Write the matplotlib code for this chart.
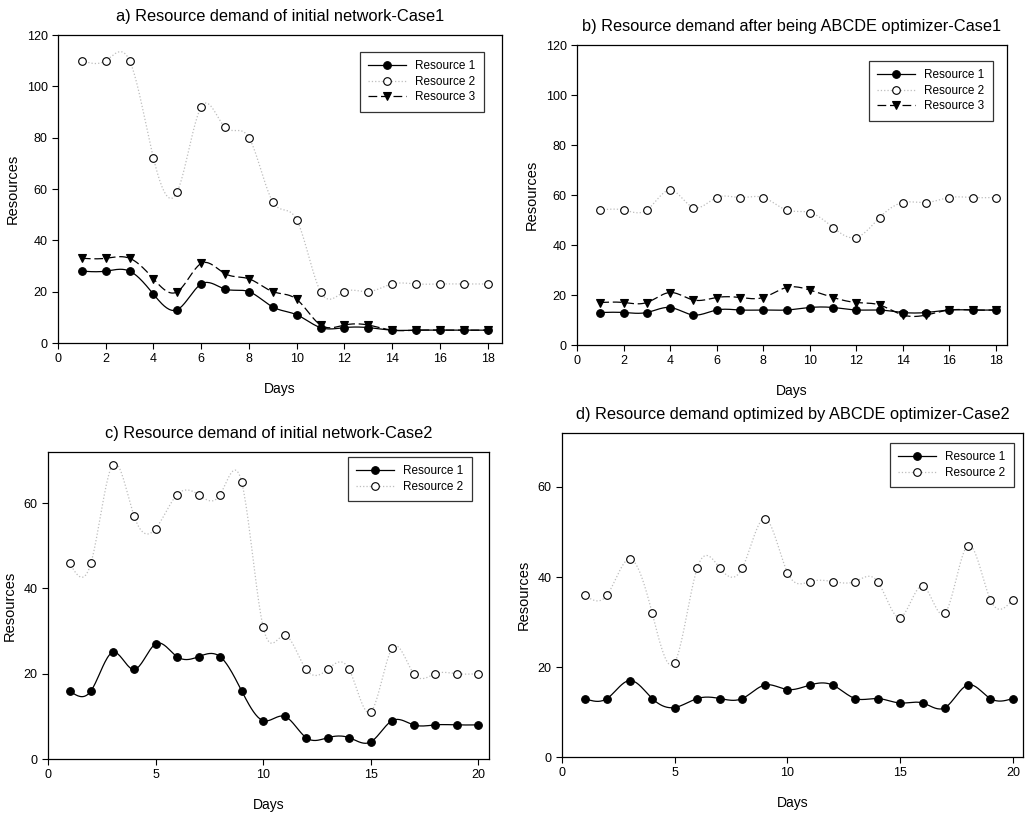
import numpy as np
import matplotlib
matplotlib.use("Agg")
import matplotlib.pyplot as plt

plt.rcParams['font.family'] = ['Liberation Sans', 'DejaVu Sans']

days18 = list(range(1, 19))
days20 = list(range(1, 21))

a_r1 = [28, 28, 28, 19, 13, 23, 21, 20, 14, 11, 6, 6, 6, 5, 5, 5, 5, 5]
a_r2 = [110, 110, 110, 72, 59, 92, 84, 80, 55, 48, 20, 20, 20, 23, 23, 23, 23, 23]
a_r3 = [33, 33, 33, 25, 20, 31, 27, 25, 20, 17, 7, 7, 7, 5, 5, 5, 5, 5]

b_r1 = [13, 13, 13, 15, 12, 14, 14, 14, 14, 15, 15, 14, 14, 13, 13, 14, 14, 14]
b_r2 = [54, 54, 54, 62, 55, 59, 59, 59, 54, 53, 47, 43, 51, 57, 57, 59, 59, 59]
b_r3 = [17, 17, 17, 21, 18, 19, 19, 19, 23, 22, 19, 17, 16, 12, 12, 14, 14, 14]

c_r1 = [16, 16, 25, 21, 27, 24, 24, 24, 16, 9, 10, 5, 5, 5, 4, 9, 8, 8, 8, 8]
c_r2 = [46, 46, 69, 57, 54, 62, 62, 62, 65, 31, 29, 21, 21, 21, 11, 26, 20, 20, 20, 20]

d_r1 = [13, 13, 17, 13, 11, 13, 13, 13, 16, 15, 16, 16, 13, 13, 12, 12, 11, 16, 13, 13]
d_r2 = [36, 36, 44, 32, 21, 42, 42, 42, 53, 41, 39, 39, 39, 39, 31, 38, 32, 47, 35, 35]

titles = ["a) Resource demand of initial network-Case1",
          "b) Resource demand after being ABCDE optimizer-Case1",
          "c) Resource demand of initial network-Case2",
          "d) Resource demand optimized by ABCDE optimizer-Case2"]
labels = ["Resource 1", "Resource 2", "Resource 3"]


def spline(x, y, n=20):
    x = np.asarray(x, float)
    y = np.asarray(y, float)
    m = len(x)
    h = np.diff(x)
    A = np.zeros((m, m))
    r = np.zeros(m)
    A[0, 0] = 1
    A[-1, -1] = 1
    for i in range(1, m - 1):
        A[i, i - 1] = h[i - 1]
        A[i, i] = 2 * (h[i - 1] + h[i])
        A[i, i + 1] = h[i]
        r[i] = 3 * ((y[i + 1] - y[i]) / h[i] - (y[i] - y[i - 1]) / h[i - 1])
    c = np.linalg.solve(A, r)
    xs, ys = [], []
    for i in range(m - 1):
        b = (y[i + 1] - y[i]) / h[i] - h[i] * (2 * c[i] + c[i + 1]) / 3
        d = (c[i + 1] - c[i]) / (3 * h[i])
        t = np.linspace(0, h[i], n, endpoint=(i == m - 2))
        xs.append(x[i] + t)
        ys.append(y[i] + b * t + c[i] * t ** 2 + d * t ** 3)
    return np.concatenate(xs), np.concatenate(ys)


W, H = 1026, 814
fig = plt.figure(figsize=(W / 100, H / 100), dpi=100)


def make_ax(l, r, t, b):
    return fig.add_axes([l / W, 1 - b / H, (r - l) / W, (b - t) / H])


axes = [make_ax(58, 502, 35, 343), make_ax(577, 1007, 45, 345),
        make_ax(48, 489, 452, 759), make_ax(562, 1023, 433, 757)]

panels = [
    (days18, [a_r1, a_r2, a_r3], (0, 18.6), (0, 120), [0, 2, 4, 6, 8, 10, 12, 14, 16, 18], [0, 20, 40, 60, 80, 100, 120], (0.959, 0.945)),
    (days18, [b_r1, b_r2, b_r3], (0, 18.47), (0, 120), [0, 2, 4, 6, 8, 10, 12, 14, 16, 18], [0, 20, 40, 60, 80, 100, 120], (0.967, 0.947)),
    (days20, [c_r1, c_r2], (0, 20.5), (0, 72), [0, 5, 10, 15, 20], [0, 20, 40, 60], (0.961, 0.984)),
    (days20, [d_r1, d_r2], (0, 20.45), (0, 72), [0, 5, 10, 15, 20], [0, 20, 40, 60], (0.98, 0.969)),
]

styles = [
    dict(color='black', ls='-', lw=0.9, marker='o', mfc='black', mec='black'),
    dict(color='#bdbdbd', ls=':', lw=0.9, marker='o', mfc='white', mec='black'),
    dict(color='black', ls=(0, (7, 3)), lw=0.9, marker='v', mfc='black', mec='black'),
]

for ax, title, (x, series, xl, yl, xt, yt, lpos) in zip(axes, titles, panels):
    handles = []
    for k, s in enumerate(series):
        st = styles[k]
        sx, sy = spline(x, s)
        ax.plot(sx, sy, color=st['color'], ls=st['ls'], lw=st['lw'], zorder=2)
        ax.plot(x, s, ls='none', marker=st['marker'], mfc=st['mfc'], mec=st['mec'],
                ms=5.5, mew=0.8, zorder=3)
        h, = ax.plot([], [], color=st['color'], ls=st['ls'], lw=st['lw'],
                     marker=st['marker'], mfc=st['mfc'], mec=st['mec'], ms=5.5, mew=0.8)
        handles.append(h)
    ax.set_xlim(*xl)
    ax.set_ylim(*yl)
    ax.set_xticks(xt)
    ax.set_yticks(yt)
    ax.tick_params(direction='out', length=4, width=0.8, labelsize=9, top=False, right=False)
    for sp in ax.spines.values():
        sp.set_linewidth(0.9)
    ax.set_title(title, fontsize=11.8, pad=10)
    ax.set_xlabel("Days", fontsize=10, labelpad=12)
    ax.set_ylabel("Resources", fontsize=10.5, labelpad=5)
    leg = ax.legend(handles, labels[:len(series)], loc='upper right', bbox_to_anchor=lpos,
                    fontsize=8.5, frameon=True, fancybox=False, edgecolor='black',
                    handlelength=3.2, borderpad=0.7, labelspacing=0.3, numpoints=1,
                    borderaxespad=0)
    leg.get_frame().set_linewidth(0.9)

fig.savefig("out.png", dpi=100)
